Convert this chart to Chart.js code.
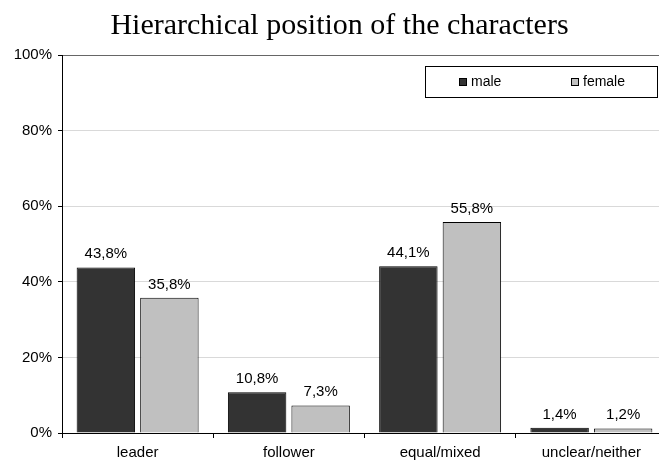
<!DOCTYPE html>
<html>
<head>
<meta charset="utf-8">
<script src="https://cdn.jsdelivr.net/npm/chart.js@4"></script>
<style>
  html, body { margin: 0; padding: 0; background: #fff; overflow: hidden; }
  #wrap { position: relative; width: 667px; height: 462px; }
</style>
</head>
<body>
<div id="wrap"><canvas id="myChart"></canvas></div>
<script>
const categories = ["leader", "follower", "equal/mixed", "unclear/neither"];
const maleValues = [43.8, 10.8, 44.1, 1.4];
const femaleValues = [35.8, 7.3, 55.8, 1.2];
const yTicks = [0, 20, 40, 60, 80, 100];

const fmt = v => v.toFixed(1).replace(".", ",") + "%";

// value labels above each bar
const valueLabels = {
  id: "valueLabels",
  afterDatasetsDraw(chart) {
    const ctx = chart.ctx;
    ctx.save();
    ctx.font = "15px 'Liberation Sans', Arial, sans-serif";
    ctx.fillStyle = "#000";
    ctx.textAlign = "center";
    ctx.textBaseline = "alphabetic";
    chart.data.datasets.forEach(function (ds, i) {
      chart.getDatasetMeta(i).data.forEach(function (bar, j) {
        ctx.fillText(fmt(ds.data[j]), bar.x, bar.y - 9);
      });
    });
    ctx.restore();
  },
};

// boxed legend inside the plot area, top right
const boxLegend = {
  id: "boxLegend",
  afterDraw(chart) {
    const ctx = chart.ctx;
    const area = chart.chartArea;
    const right = area.right - 9;
    const left = right - 233;
    const top = area.top + 11;
    const h = 32;
    ctx.save();
    ctx.fillStyle = "#fff";
    ctx.fillRect(left, top, right - left, h);
    ctx.strokeStyle = "#000";
    ctx.lineWidth = 1;
    ctx.strokeRect(left + 0.5, top + 0.5, right - left - 1, h - 1);
    ctx.font = "14px 'Liberation Sans', Arial, sans-serif";
    ctx.textBaseline = "middle";
    ctx.textAlign = "left";
    const cy = top + h / 2;
    const xs = [left + 34, left + 146];
    chart.data.datasets.forEach(function (ds, i) {
      const x = xs[i];
      ctx.fillStyle = ds.backgroundColor;
      ctx.fillRect(x, cy - 4, 8, 8);
      ctx.strokeStyle = "#000";
      ctx.strokeRect(x + 0.5, cy - 3.5, 7, 7);
      ctx.fillStyle = "#000";
      ctx.fillText(ds.label, x + 12, cy);
    });
    ctx.restore();
  },
};

const ctx = document.getElementById("myChart").getContext("2d");

new Chart(ctx, {
  type: "bar",
  data: {
    labels: categories,
    datasets: [
      {
        label: "male",
        data: maleValues,
        backgroundColor: "#333333",
        borderColor: "#000",
        borderWidth: 1,
      },
      {
        label: "female",
        data: femaleValues,
        backgroundColor: "#c0c0c0",
        borderColor: "#000",
        borderWidth: 1,
      },
    ],
  },
  options: {
    responsive: true,
    maintainAspectRatio: false,
    animation: false,
    categoryPercentage: 0.84,
    barPercentage: 0.92,
    layout: { padding: { left: 12, right: 0, top: 0, bottom: 0 } },
    plugins: {
      legend: { display: false },
      tooltip: { enabled: false },
      title: {
        display: true,
        text: "Hierarchical position of the characters",
        color: "#000",
        font: { family: "'Liberation Serif', 'Times New Roman', serif", size: 30, weight: "normal", lineHeight: 1.2 },
        padding: { top: 8, bottom: 11 },
      },
    },
    scales: {
      x: {
        offset: true,
        grid: {
          offset: true,
          drawOnChartArea: false,
          tickLength: 5,
          tickColor: "#000",
        },
        border: { color: "#000", width: 1 },
        ticks: {
          color: "#000",
          padding: 6,
          font: { family: "'Liberation Sans', Arial, sans-serif", size: 15 },
        },
        afterFit(scale) { scale.height = 29; },
      },
      y: {
        min: 0,
        max: 100,
        afterBuildTicks(axis) { axis.ticks = yTicks.map(v => ({ value: v })); },
        grid: {
          color: c => (c.tick && c.tick.value === 100 ? "#666" : "#d9d9d9"),
          tickColor: "#000",
          tickLength: 4,
        },
        border: { color: "#000", width: 1 },
        ticks: {
          color: "#000",
          padding: 6,
          font: { family: "'Liberation Sans', Arial, sans-serif", size: 15 },
          callback: v => v + "%",
        },
        afterFit(scale) { scale.width = 50; },
      },
    },
  },
  plugins: [valueLabels, boxLegend],
});
</script>
</body>
</html>
